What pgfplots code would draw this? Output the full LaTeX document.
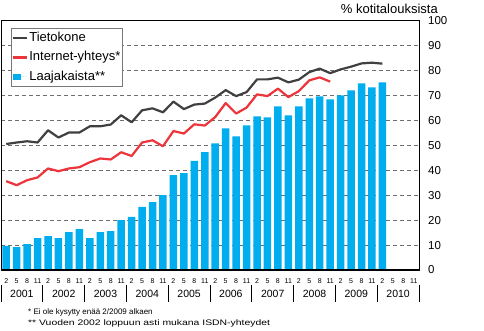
\documentclass[border=0pt]{standalone}
\usepackage{pgfplots}
\pgfplotsset{compat=1.18}
\usepackage{pgfplotstable}
\usepackage{fontspec}
\setmainfont{Liberation Sans}
\definecolor{pccol}{RGB}{64,64,64}
\definecolor{netcol}{RGB}{237,52,58}
\definecolor{bbcol}{RGB}{0,174,239}
\definecolor{gridcol}{RGB}{110,110,110}
\definecolor{legcol}{RGB}{120,120,120}

\pgfplotstableread{
x pc bb
0 50.5 9.7
1 51.1 9.2
2 51.6 10.4
3 51.1 12.8
4 56.0 13.6
5 53.1 12.8
6 55.1 15.2
7 55.1 16.4
8 57.6 12.8
9 57.6 15.2
10 58.3 15.6
11 62.0 20.0
12 59.2 21.3
13 64.0 25.3
14 64.8 27.2
15 63.2 30.0
16 67.5 38.0
17 64.5 38.8
18 66.3 43.7
19 66.7 47.2
20 69.1 50.8
21 72.1 56.8
22 69.7 53.6
23 71.3 58.0
24 76.4 61.6
25 76.4 61.2
26 77.1 65.6
27 75.2 62.0
28 76.3 65.6
29 79.3 68.8
30 80.7 69.6
31 78.9 68.4
32 80.4 70.0
33 81.5 72.0
34 82.8 74.8
35 83.1 73.2
36 82.7 75.2
}\maintable

\pgfplotstableread{
x net
0 35.6
1 34.0
2 36.0
3 37.1
4 40.7
5 39.6
6 40.7
7 41.2
8 43.2
9 44.7
10 44.3
11 47.2
12 45.7
13 51.1
14 52.0
15 49.6
16 55.7
17 54.7
18 58.4
19 57.9
20 61.3
21 66.9
22 62.7
23 65.1
24 70.4
25 69.7
26 72.7
27 69.3
28 71.7
29 76.0
30 77.2
31 75.5
}\nettable

\begin{document}
\begin{tikzpicture}
\path[use as bounding box] (0pt,0pt) rectangle (484pt,-330pt);
\begin{axis}[
  at={(1pt,-270pt)}, anchor=south west,
  scale only axis, width=418pt, height=249.5pt,
  xmin=-0.5, xmax=39.5, ymin=0, ymax=100,
  clip=false,
  axis line style={black, line width=0.9pt},
  major tick length=0pt,
  xtick={0,...,39},
  xticklabels={2,5,8,11,2,5,8,11,2,5,8,11,2,5,8,11,2,5,8,11,2,5,8,11,2,5,8,11,2,5,8,11,2,5,8,11,2,5,8,11},
  xticklabel style={font=\fontsize{7}{7}\selectfont, inner sep=0pt, anchor=north, yshift=-8.5pt},
  ytick={0,10,...,100},
  yticklabel pos=right,
  /pgf/number format/assume math mode=true,
  yticklabel style={font=\fontsize{11.5}{12}\selectfont, inner sep=0pt, anchor=west, xshift=9pt},
  ymajorgrids,
  grid style={gridcol, line width=0.8pt, dash pattern=on 4pt off 3pt},
  legend cell align=left,
  reverse legend,
  legend style={at={(axis description cs:0,1)}, anchor=north west, xshift=9.7pt, yshift=-7.5pt,
    draw=legcol, line width=0.8pt, fill=white,
    font=\fontsize{13}{13}\selectfont,
    inner xsep=1pt, inner ysep=2.5pt, row sep=5.5pt,
    nodes={inner sep=1pt, text height=9.5pt, text depth=2.5pt}},
]
\addplot[ybar, bar width=0.72, fill=bbcol, draw=none,
  legend image code/.code={\path (0pt,0pt) -- (14pt,0pt); \fill[bbcol] (0pt,-2.8pt) rectangle (7.5pt,2.8pt);}]
  table[x=x, y=bb] {\maintable};
\addlegendentry{Laajakaista**}
\addplot[netcol, line width=2.2pt, line join=round,
  legend image code/.code={\draw[netcol, line width=2.2pt] (0pt,0pt) -- (14pt,0pt);}]
  table[x=x, y=net] {\nettable};
\addlegendentry{Internet-yhteys*}
\addplot[pccol, line width=2.2pt, line join=round,
  legend image code/.code={\draw[pccol, line width=2.2pt] (0pt,0pt) -- (14pt,0pt);}]
  table[x=x, y=pc] {\maintable};
\addlegendentry{Tietokone}
\draw[black, line width=1.6pt] (rel axis cs:0,0) -- (rel axis cs:1,0);
% year labels
\node[font=\fontsize{10.5}{11}\selectfont, yshift=-24.3pt] at (axis cs:1.5,0) {2001};
\node[font=\fontsize{10.5}{11}\selectfont, yshift=-24.3pt] at (axis cs:5.5,0) {2002};
\node[font=\fontsize{10.5}{11}\selectfont, yshift=-24.3pt] at (axis cs:9.5,0) {2003};
\node[font=\fontsize{10.5}{11}\selectfont, yshift=-24.3pt] at (axis cs:13.5,0) {2004};
\node[font=\fontsize{10.5}{11}\selectfont, yshift=-24.3pt] at (axis cs:17.5,0) {2005};
\node[font=\fontsize{10.5}{11}\selectfont, yshift=-24.3pt] at (axis cs:21.5,0) {2006};
\node[font=\fontsize{10.5}{11}\selectfont, yshift=-24.3pt] at (axis cs:25.5,0) {2007};
\node[font=\fontsize{10.5}{11}\selectfont, yshift=-24.3pt] at (axis cs:29.5,0) {2008};
\node[font=\fontsize{10.5}{11}\selectfont, yshift=-24.3pt] at (axis cs:33.5,0) {2009};
\node[font=\fontsize{10.5}{11}\selectfont, yshift=-24.3pt] at (axis cs:37.5,0) {2010};
% separators
\draw[black, line width=0.8pt] (axis cs:-0.5,0) ++(0pt,-15pt) -- ++(0pt,-17pt);
\draw[black, line width=0.8pt] (axis cs:3.5,0) ++(0pt,-15pt) -- ++(0pt,-17pt);
\draw[black, line width=0.8pt] (axis cs:7.5,0) ++(0pt,-15pt) -- ++(0pt,-17pt);
\draw[black, line width=0.8pt] (axis cs:11.5,0) ++(0pt,-15pt) -- ++(0pt,-17pt);
\draw[black, line width=0.8pt] (axis cs:15.5,0) ++(0pt,-15pt) -- ++(0pt,-17pt);
\draw[black, line width=0.8pt] (axis cs:19.5,0) ++(0pt,-15pt) -- ++(0pt,-17pt);
\draw[black, line width=0.8pt] (axis cs:23.5,0) ++(0pt,-15pt) -- ++(0pt,-17pt);
\draw[black, line width=0.8pt] (axis cs:27.5,0) ++(0pt,-15pt) -- ++(0pt,-17pt);
\draw[black, line width=0.8pt] (axis cs:31.5,0) ++(0pt,-15pt) -- ++(0pt,-17pt);
\draw[black, line width=0.8pt] (axis cs:35.5,0) ++(0pt,-15pt) -- ++(0pt,-17pt);
\draw[black, line width=0.8pt] (axis cs:39.5,0) ++(0pt,-15pt) -- ++(0pt,-17pt);
\end{axis}
\node[anchor=east, font=\fontsize{13}{13}\selectfont, inner sep=0pt] at (438pt,-9pt) {\% kotitalouksista};
\node[anchor=west, font=\fontsize{8}{8}\selectfont, inner sep=0pt] at (28pt,-312.7pt) {* Ei ole kysytty enää 2/2009 alkaen};
\node[anchor=west, font=\fontsize{8}{8}\selectfont, inner sep=0pt] at (28pt,-323.5pt) {\scalebox{1.3}[1]{** Vuoden 2002 loppuun asti mukana ISDN-yhteydet}};
\end{tikzpicture}
\end{document}
